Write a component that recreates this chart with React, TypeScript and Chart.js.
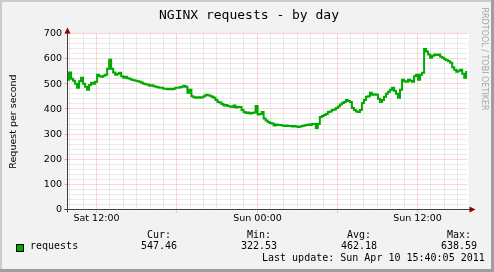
import { useEffect, useRef } from "react";
import { Chart, registerables } from "chart.js";

Chart.register(...registerables);

const TITLE = "NGINX requests - by day";
const Y_TITLE = "Request per second";
const SIDE_TEXT = "RRDTOOL / TOBI OETIKER";

// hours relative to Sat 12:00
const X_MIN = -2.17;
const X_MAX = 27.74;
const START_HOUR = -2.13;
const STEP_HOURS = 0.15;

const REQUESTS = [
  516, 545, 520, 512, 500, 484, 510, 524, 500, 488, 476, 495, 504, 500, 508, 536, 530, 528, 532, 536,
  560, 596, 560, 545, 536, 540, 544, 530, 524, 528, 522, 520, 516, 514, 512, 510, 508, 504, 500, 498,
  496, 492, 494, 490, 488, 486, 484, 484, 480, 480, 478, 480, 478, 480, 484, 484, 486, 488, 492, 488,
  464, 476, 450, 446, 444, 446, 444, 446, 450, 456, 454, 452, 448, 444, 436, 428, 426, 420, 414, 416,
  412, 410, 408, 414, 406, 408, 408, 396, 388, 384, 386, 382, 384, 386, 412, 378, 380, 388, 362, 354,
  348, 344, 342, 334, 338, 336, 336, 334, 332, 334, 332, 332, 330, 332, 330, 328, 330, 332, 334, 336,
  338, 336, 340, 340, 324, 340, 368, 372, 376, 380, 388, 390, 396, 398, 404, 410, 418, 424, 428, 436,
  432, 428, 404, 396, 390, 388, 396, 424, 436, 448, 450, 464, 456, 458, 456, 440, 428, 436, 448, 460,
  468, 476, 484, 472, 460, 444, 476, 516, 510, 508, 516, 512, 508, 530, 536, 516, 536, 544, 638, 628,
  616, 604, 612, 616, 614, 616, 608, 604, 598, 594, 590, 584, 566, 556, 548, 552, 556, 540, 524, 547,
];

const X_TICK_HOURS = [0, 12, 24];
const X_TICK_LABELS = ["Sat 12:00", "Sun 00:00", "Sun 12:00"];
const Y_TICKS = [0, 100, 200, 300, 400, 500, 600, 700];
const Y_MINOR_STEP = 20;
const X_MINOR_STEP = 1;
const X_MAJOR_STEP = 6;

const SERIES_NAME = "requests";
const LEGEND_HEADERS = ["Cur:", "Min:", "Avg:", "Max:"];
const LEGEND_VALUES = ["547.46", "322.53", "462.18", "638.59"];
const LAST_UPDATE = "Last update: Sun Apr 10 15:40:05 2011";

const W = 494;
const H = 272;
const LINE_COLOR = "#00AA00";
const MINOR_GRID = "rgba(160,160,160,0.45)";
const MAJOR_GRID = "rgba(240,120,120,0.6)";
const AXIS_COLOR = "#404040";
const ARROW_COLOR = "#8B0000";
const SANS = '"DejaVu Sans", sans-serif';
const MONO = '"DejaVu Sans Mono", monospace';

const rrdPlugin = {
  id: "rrdDecor",
  beforeDraw(chart: any) {
    const ctx: CanvasRenderingContext2D = chart.ctx;
    const area = chart.chartArea;
    const xs = chart.scales.x;
    const ys = chart.scales.y;
    ctx.save();
    ctx.fillStyle = "#F2F2F2";
    ctx.fillRect(0, 0, W, H);
    ctx.fillStyle = "#CBCBCB";
    ctx.fillRect(0, 0, W, 2);
    ctx.fillRect(0, 0, 2, H);
    ctx.fillStyle = "#9E9E9E";
    ctx.fillRect(0, H - 3, W, 3);
    ctx.fillRect(W - 3, 0, 3, H);
    ctx.fillStyle = "#FFFFFF";
    ctx.fillRect(area.left, area.top, area.right - area.left + 1, area.bottom - area.top + 1);

    ctx.lineWidth = 1;
    ctx.setLineDash([1, 1]);
    for (let v = 0; v <= 700; v += Y_MINOR_STEP) {
      if (v === 0) continue;
      const py = Math.floor(ys.getPixelForValue(v)) + 0.5;
      ctx.strokeStyle = v % 100 === 0 ? MAJOR_GRID : MINOR_GRID;
      ctx.beginPath();
      ctx.moveTo(area.left, py);
      ctx.lineTo(area.right, py);
      ctx.stroke();
    }
    for (let h = Math.ceil(X_MIN); h <= X_MAX; h += X_MINOR_STEP) {
      const px = Math.floor(xs.getPixelForValue(h)) + 0.5;
      const major = ((h % X_MAJOR_STEP) + X_MAJOR_STEP) % X_MAJOR_STEP === 0;
      ctx.strokeStyle = major ? MAJOR_GRID : MINOR_GRID;
      ctx.beginPath();
      ctx.moveTo(px, area.top);
      ctx.lineTo(px, area.bottom);
      ctx.stroke();
      if (major) {
        ctx.setLineDash([]);
        ctx.beginPath();
        ctx.moveTo(px, area.bottom + 1);
        ctx.lineTo(px, area.bottom + 3);
        ctx.stroke();
        ctx.setLineDash([1, 1]);
      }
    }
    ctx.setLineDash([]);
    for (const v of Y_TICKS) {
      const py = Math.floor(ys.getPixelForValue(v)) + 0.5;
      ctx.strokeStyle = v === 0 ? AXIS_COLOR : MAJOR_GRID;
      ctx.beginPath();
      ctx.moveTo(area.left - 3, py);
      ctx.lineTo(area.left, py);
      ctx.stroke();
    }
    const ax = Math.floor(area.left) + 0.5;
    const ay = Math.floor(ys.getPixelForValue(0)) + 0.5;
    ctx.strokeStyle = AXIS_COLOR;
    ctx.beginPath();
    ctx.moveTo(ax, area.bottom + 3);
    ctx.lineTo(ax, area.top - 2);
    ctx.moveTo(area.left - 3, ay);
    ctx.lineTo(area.right + 3, ay);
    ctx.stroke();
    ctx.fillStyle = ARROW_COLOR;
    ctx.beginPath();
    ctx.moveTo(ax, area.top - 6);
    ctx.lineTo(ax - 3, area.top);
    ctx.lineTo(ax + 3, area.top);
    ctx.closePath();
    ctx.fill();
    ctx.beginPath();
    ctx.moveTo(area.right + 8, ay);
    ctx.lineTo(area.right + 2, ay - 3);
    ctx.lineTo(area.right + 2, ay + 3);
    ctx.closePath();
    ctx.fill();

    ctx.fillStyle = "#000000";
    ctx.font = `9.5px ${SANS}`;
    ctx.textAlign = "right";
    ctx.textBaseline = "middle";
    for (const v of Y_TICKS) {
      ctx.fillText(String(v), area.left - 5.5, ys.getPixelForValue(v) + 0.3);
    }
    ctx.textAlign = "center";
    X_TICK_HOURS.forEach((h, i) => {
      ctx.fillText(X_TICK_LABELS[i], Math.floor(xs.getPixelForValue(h)) + 0.5, 218.5);
    });

    ctx.font = `13px ${MONO}`;
    ctx.textAlign = "center";
    ctx.fillText(TITLE, 249, 15.5);

    ctx.save();
    ctx.translate(14, (area.top + area.bottom) / 2);
    ctx.rotate(-Math.PI / 2);
    ctx.font = `9.5px ${SANS}`;
    ctx.textAlign = "center";
    ctx.textBaseline = "middle";
    ctx.fillText(Y_TITLE, 0, 0);
    ctx.restore();

    ctx.save();
    ctx.translate(484, 59);
    ctx.rotate(Math.PI / 2);
    ctx.font = `8px ${SANS}`;
    ctx.fillStyle = "#A6A6A6";
    ctx.textAlign = "center";
    ctx.textBaseline = "middle";
    ctx.fillText(SIDE_TEXT, 0, 0);
    ctx.restore();

    ctx.font = `10px ${MONO}`;
    ctx.textAlign = "left";
    ctx.textBaseline = "middle";
    ctx.fillStyle = "#000000";
    const colX = [147, 247, 347, 447];
    const valX = [141, 241, 341, 441];
    LEGEND_HEADERS.forEach((t, i) => ctx.fillText(t, colX[i], 235));
    LEGEND_VALUES.forEach((t, i) => ctx.fillText(t, valX[i], 246.5));
    ctx.fillText(SERIES_NAME, 30, 246.5);
    ctx.fillText(LAST_UPDATE, 262, 258.5);
    ctx.fillStyle = LINE_COLOR;
    ctx.fillRect(16, 244, 8, 8);
    ctx.strokeStyle = "#000000";
    ctx.strokeRect(16.5, 244.5, 7, 7);
    ctx.restore();
  },
};

export default function App() {
  const ref = useRef<HTMLCanvasElement | null>(null);
  useEffect(() => {
    document.body.style.margin = "0";
    if (!ref.current) return;
    const points = REQUESTS.map((v, i) => ({ x: START_HOUR + i * STEP_HOURS, y: v }));
    const chart = new Chart(ref.current, {
      type: "line",
      data: {
        datasets: [
          {
            label: SERIES_NAME,
            data: points,
            borderColor: LINE_COLOR,
            borderWidth: 2,
            pointRadius: 0,
            tension: 0,
            stepped: "middle",
            fill: false,
          },
        ],
      },
      options: {
        responsive: false,
        animation: false,
        devicePixelRatio: 1,
        layout: { padding: { left: 67.5, right: W - 467.5, top: 33.5, bottom: H - 209.5 } },
        scales: {
          x: { type: "linear", display: false, min: X_MIN, max: X_MAX },
          y: { type: "linear", display: false, min: 0, max: 700 },
        },
        plugins: { legend: { display: false }, tooltip: { enabled: false }, title: { display: false } },
      },
      plugins: [rrdPlugin],
    });
    return () => chart.destroy();
  }, []);
  return (
    <div style={{ position: "absolute", left: 0, top: 0, width: W, height: H }}>
      <canvas ref={ref} width={W} height={H} style={{ display: "block", width: W, height: H }} />
    </div>
  );
}
